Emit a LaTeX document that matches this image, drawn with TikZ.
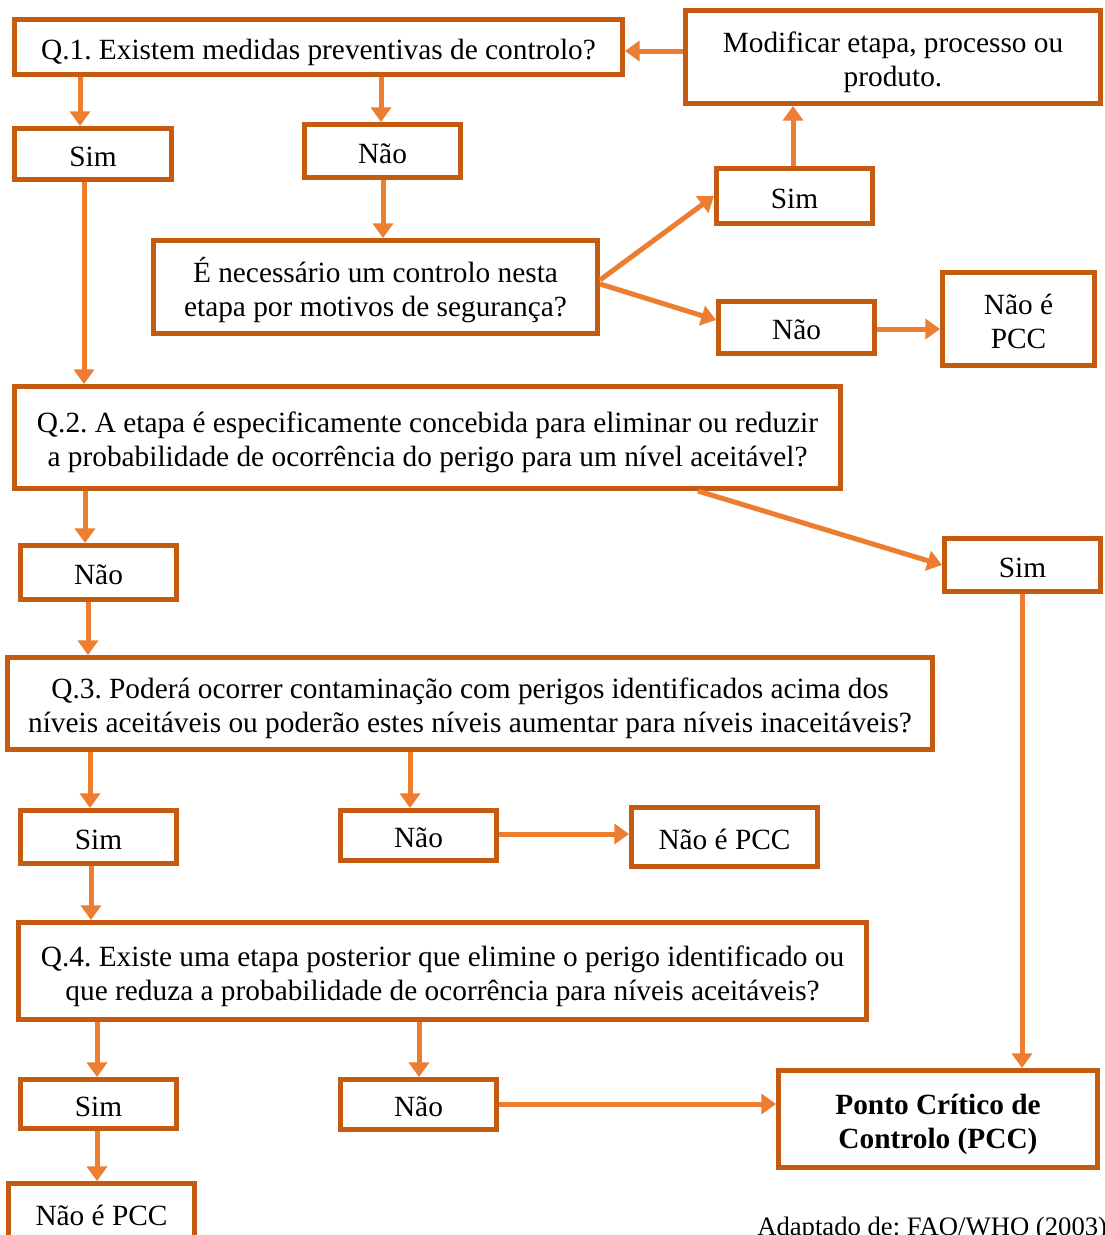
\documentclass[tikz,border=0pt]{standalone}
\usepackage{fontspec}
\setmainfont{Liberation Serif}
\usetikzlibrary{arrows.meta}
\definecolor{boxc}{HTML}{C55A11}
\definecolor{arrc}{HTML}{ED7D31}
\newcommand\bx[6]{\node[box,minimum width={(#4-#2-5)*0.75pt},minimum height={(#5-#3-5)*0.75pt}] (#1) at ({(#2+#4)/2},{(#3+#5)/2}) {\raisebox{-4pt}[\height][\depth]{\begin{tabular}{@{}c@{}}#6\end{tabular}}};}
\begin{document}
\frenchspacing
\begin{tikzpicture}[x=0.75pt,y=-0.75pt,
  txt/.style={font=\fontsize{22}{25.5}\selectfont},
  box/.style={txt,draw=boxc,line width=3.75pt,fill=white,align=center,inner sep=0pt},
  arr/.style={draw=arrc,line width=3.75pt,-{Triangle[length=11pt,width=15pt]}}]
\useasboundingbox (0,0) rectangle (1105,1235);
\clip (0,0) rectangle (1105,1235);
\fill[white] (0,0) rectangle (1105,1235);
\bx{q1}{12}{17}{625}{77}{Q.1. Existem medidas preventivas de controlo?}
\bx{mod}{683}{8}{1103}{106}{Modificar etapa, processo ou\\produto.}
\bx{s1}{12}{126}{174}{182}{Sim}
\bx{n1}{302}{122}{463}{180}{Não}
\bx{e}{151}{238}{600}{336}{É necessário um controlo nesta\\etapa por motivos de segurança?}
\bx{s2}{714}{166}{875}{226}{Sim}
\bx{n2}{716}{299}{877}{356}{Não}
\bx{p1}{940}{270}{1097}{368}{Não é\\PCC}
\bx{q2}{12}{384}{843}{491}{Q.2. A etapa é especificamente concebida para eliminar ou reduzir\\a probabilidade de ocorrência do perigo para um nível aceitável?}
\bx{n3}{18}{543}{179}{602}{Não}
\bx{s3}{942}{536}{1103}{594}{Sim}
\bx{q3}{5}{655}{935}{752}{Q.3. Poderá ocorrer contaminação com perigos identificados acima dos\\níveis aceitáveis ou poderão estes níveis aumentar para níveis inaceitáveis?}
\bx{s4}{18}{808}{179}{866}{Sim}
\bx{n4}{338}{808}{499}{863}{Não}
\bx{p2}{629}{805}{820}{869}{Não é PCC}
\bx{q4}{16}{920}{869}{1022}{Q.4. Existe uma etapa posterior que elimine o perigo identificado ou\\que reduza a probabilidade de ocorrência para níveis aceitáveis?}
\bx{s5}{18}{1077}{179}{1131}{Sim}
\bx{n5}{338}{1077}{499}{1132}{Não}
\bx{pcc}{776}{1068}{1100}{1170}{\textbf{Ponto Crítico de}\\\textbf{Controlo (PCC)}}
\bx{p3}{6}{1181}{197}{1245}{Não é PCC}
\node[font=\fontsize{20}{24}\selectfont,anchor=base west,inner sep=0pt] (src) at (757,1235) {Adaptado de: FAO/WHO (2003)};
\draw[arr] (80,0 |- q1.south) -- (80,0 |- s1.north);
\draw[arr] (381,0 |- q1.south) -- (381,0 |- n1.north);
\draw[arr] (mod.west |- 0,51) -- (q1.east |- 0,51);
\draw[arr] (84,0 |- s1.south) -- (84,0 |- q2.north);
\draw[arr] (383,0 |- n1.south) -- (383,0 |- e.north);
\draw[arr] (e.east |- 0,280) -- (s2.west);
\draw[arr] (e.east |- 0,284) -- (n2.west |- 0,320);
\draw[arr] (793,0 |- s2.north) -- (793,0 |- mod.south);
\draw[arr] (n2.east |- 0,329) -- (p1.west |- 0,329);
\draw[arr] (85,0 |- q2.south) -- (85,0 |- n3.north);
\draw[arr] (698,0 |- q2.south) -- (s3.west);
\draw[arr] (88,0 |- n3.south) -- (88,0 |- q3.north);
\draw[arr] (1022,0 |- s3.south) -- (1022,0 |- pcc.north);
\draw[arr] (90,0 |- q3.south) -- (90,0 |- s4.north);
\draw[arr] (410,0 |- q3.south) -- (410,0 |- n4.north);
\draw[arr] (n4.east |- 0,834) -- (p2.west |- 0,834);
\draw[arr] (91,0 |- s4.south) -- (91,0 |- q4.north);
\draw[arr] (97,0 |- q4.south) -- (97,0 |- s5.north);
\draw[arr] (419,0 |- q4.south) -- (419,0 |- n5.north);
\draw[arr] (n5.east |- 0,1104) -- (pcc.west |- 0,1104);
\draw[arr] (97,0 |- s5.south) -- (97,0 |- p3.north);
\end{tikzpicture}
\end{document}
